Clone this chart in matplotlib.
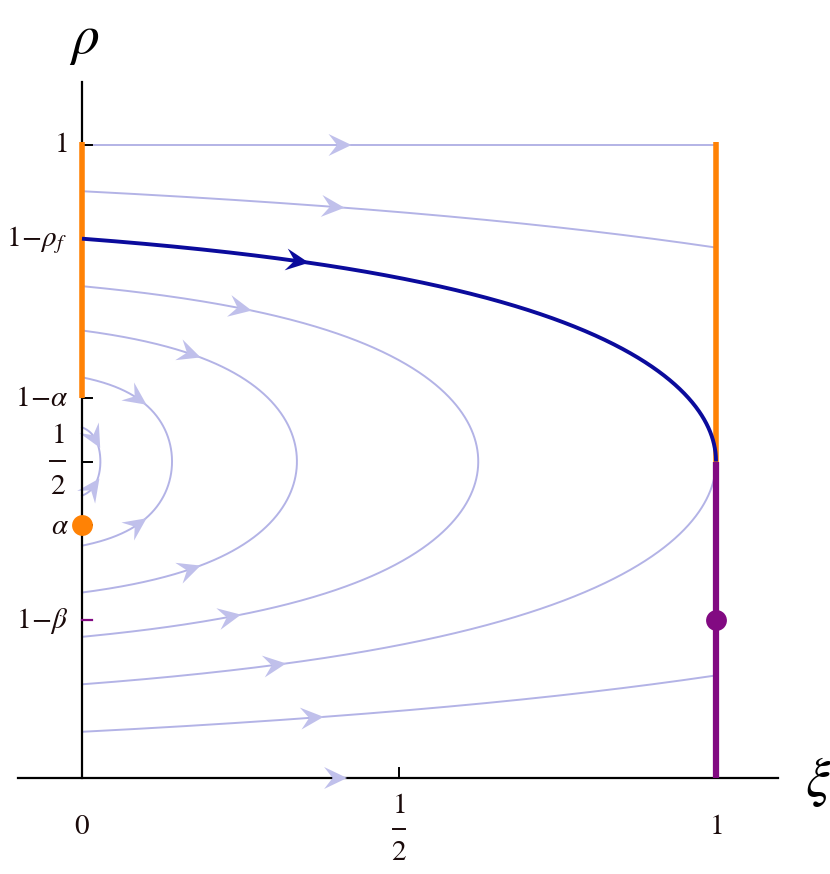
import numpy as np
import matplotlib
matplotlib.use('Agg')
import matplotlib.pyplot as plt
from matplotlib.patches import Polygon

plt.rcParams['mathtext.fontset'] = 'stix'
plt.rcParams['font.family'] = ['STIXGeneral', 'DejaVu Serif']

# ---------------- data ----------------
alpha = 0.40
beta = 0.75
rho_f = 0.148
xi_ticks = [0.0, 0.5, 1.0]
rho_ticks = [1.0, 1 - rho_f, 1 - alpha, 0.5, alpha, 1 - beta]

# closed characteristic curves: half-height at xi=0 and turning point
closed_d0 = [0.054, 0.133, 0.207, 0.277]
closed_xm = [0.029, 0.142, 0.339, 0.625]
closed_arrow_up = [0.020, 0.087, 0.170, 0.250]
closed_arrow_lo = [0.017, 0.087, 0.170, 0.233]

# separatrix (starts at 1-rho_f, turns at xi=1)
sep_d0 = 0.5 - rho_f
sep_xm = 1.0
sep_arrow_up = 0.34
sep_arrow_lo = 0.304

# open curves that leave through xi=1
open_d0 = 0.427
open_xm = 1.8
open_arrow_up = 0.396
open_arrow_lo = 0.363

# flat lines rho=1 and rho=0
flat_rho = [1.0, 0.0]
flat_arrow = [0.407, 0.400]

K = 1.5  # shape parameter of the curve family

# ---------------- geometry helpers ----------------
PX_X = 634.0
PX_Y = 633.0


def xi_of(d, d0, xm):
    s = np.clip(1 - (d / d0) ** 2, 0, None)
    return xm * np.log(1 + s * (np.exp(K) - 1)) / K


def d_of(xi, d0, xm):
    g = (np.exp(K * xi / xm) - 1) / (np.exp(K) - 1)
    return d0 * np.sqrt(max(0.0, 1 - g))


light = '#B3B3E6'
light_arrow = '#C0C0EB'
dark = '#0B0B9C'
orange = '#FF8205'
purple = '#820A82'
txtc = '#1a0a0a'

fig = plt.figure(figsize=(8.3, 8.74), dpi=100)
ax = fig.add_axes([0, 0, 1, 1])
ax.set_xlim(-82 / PX_X, 748 / PX_X)
ax.set_ylim((778 - 874) / PX_Y, 778 / PX_Y)
ax.axis('off')


def arrow(x, y, dx_px, dy_px, color, z=3):
    n = np.hypot(dx_px, dy_px)
    ux, uy = dx_px / n, dy_px / n
    vx, vy = -uy, ux
    L, W, N = 23.0, 22.0, 8.5
    pts_px = [(L * 0.5 * ux, L * 0.5 * uy),
              (-L * 0.5 * ux + W / 2 * vx, -L * 0.5 * uy + W / 2 * vy),
              (-(L * 0.5 - N) * ux, -(L * 0.5 - N) * uy),
              (-L * 0.5 * ux - W / 2 * vx, -L * 0.5 * uy - W / 2 * vy)]
    pts = [(x + px / PX_X, y + py / PX_Y) for px, py in pts_px]
    ax.add_patch(Polygon(pts, closed=True, facecolor=color, edgecolor='none',
                         zorder=z, clip_on=False))


def curve_arrow(xi_a, d0, xm, sign, color, z=3):
    d = d_of(xi_a, d0, xm)
    dd = min(0.004, d * 0.5) if d > 0 else 0.002
    x1, y1 = xi_of(d, d0, xm), 0.5 + sign * d
    x2, y2 = xi_of(d - dd, d0, xm), 0.5 + sign * (d - dd)
    arrow(x1, y1, (x2 - x1) * PX_X, (y2 - y1) * PX_Y, color, z)


LW = 1.4
# closed curves
for d0, xm, au, al in zip(closed_d0, closed_xm, closed_arrow_up, closed_arrow_lo):
    ds = np.linspace(d0, -d0, 600)
    ax.plot(xi_of(ds, d0, xm), 0.5 + ds, color=light, lw=LW, zorder=2)
    curve_arrow(au, d0, xm, +1, light_arrow)
    curve_arrow(al, d0, xm, -1, light_arrow)

# separatrix: upper dark, lower light
ds = np.linspace(sep_d0, 0, 600)
ax.plot(xi_of(ds, sep_d0, sep_xm), 0.5 + ds, color=dark, lw=2.8, zorder=6,
        solid_capstyle='butt')
ax.plot(xi_of(ds, sep_d0, sep_xm), 0.5 - ds, color=light, lw=LW, zorder=2)
curve_arrow(sep_arrow_up, sep_d0, sep_xm, +1, dark, z=7)
curve_arrow(sep_arrow_lo, sep_d0, sep_xm, -1, light_arrow)

# open curves
xs = np.linspace(0, 1, 400)
d_open = np.array([d_of(x, open_d0, open_xm) for x in xs])
ax.plot(xs, 0.5 + d_open, color=light, lw=LW, zorder=2)
ax.plot(xs, 0.5 - d_open, color=light, lw=LW, zorder=2)
curve_arrow(open_arrow_up, open_d0, open_xm, +1, light_arrow)
curve_arrow(open_arrow_lo, open_d0, open_xm, -1, light_arrow)

# flat lines
ax.plot([0, 1], [flat_rho[0], flat_rho[0]], color=light, lw=LW, zorder=2)
arrow(flat_arrow[0], flat_rho[0], 1, 0, light_arrow)
arrow(flat_arrow[1], flat_rho[1], 1, 0, light_arrow, z=5)

# axes
ax.plot([(18 - 82) / PX_X, (778 - 82) / PX_X], [0, 0], color='black', lw=1.6,
        zorder=4, clip_on=False)
ax.plot([0, 0], [0, (778 - 82) / PX_Y], color='black', lw=1.6, zorder=4)

# ticks
tl = 10 / PX_X
for r in rho_ticks[:-1]:
    ax.plot([0, tl], [r, r], color='black', lw=1.4, zorder=4)
ax.plot([0, tl], [rho_ticks[-1]] * 2, color=purple, lw=1.6, zorder=4)
tly = 10 / PX_Y
for x in xi_ticks[1:]:
    ax.plot([x, x], [0, tly], color='black', lw=1.4, zorder=4)

# boundary segments
ax.plot([0, 0], [1 - alpha, 1.005], color=orange, lw=4.0, zorder=5,
        solid_capstyle='butt')
ax.plot([1, 1], [0.5, 1.005], color=orange, lw=4.0, zorder=5,
        solid_capstyle='butt')
ax.plot([1, 1], [0, 0.5], color=purple, lw=4.5, zorder=5,
        solid_capstyle='butt')
ax.plot([0], [alpha], 'o', color=orange, ms=15, zorder=8, mec='none')
ax.plot([1], [1 - beta], 'o', color=purple, ms=15, zorder=8, mec='none')


# labels
def px2d(px, py):
    return (px - 82) / PX_X, (778 - py) / PX_Y


fs = 21
def ylab(txt, py, right=70):
    x, y = px2d(right, py)
    ax.text(x, y, txt, ha='right', va='center', fontsize=fs, color=txtc)

ylab(r'$1$', 145, 68)
ylab(r'$1\!-\!\rho_f$', 240, 67)
ylab(r'$1\!-\!\alpha$', 399, 69)
ylab(r'$\alpha$', 527, 69)
ylab(r'$1\!-\!\beta$', 621, 69)

# fraction 1/2 on rho axis
x, y = px2d(58, 436)
ax.text(x, y, r'$1$', ha='center', va='center', fontsize=fs, color=txtc)
x, y = px2d(58, 487)
ax.text(x, y, r'$2$', ha='center', va='center', fontsize=fs, color=txtc)
x1, y1 = px2d(50, 461)
x2, _ = px2d(65, 461)
ax.plot([x1, x2], [y1, y1], color=txtc, lw=1.4, clip_on=False)

# xi axis labels
for px, t in [(82, r'$0$'), (716, r'$1$')]:
    x, y = px2d(px, 827)
    ax.text(x, y, t, ha='center', va='center', fontsize=fs, color=txtc)
x, y = px2d(399, 806)
ax.text(x, y, r'$1$', ha='center', va='center', fontsize=fs, color=txtc)
x, y = px2d(399, 853)
ax.text(x, y, r'$2$', ha='center', va='center', fontsize=fs, color=txtc)
x1, y1 = px2d(393, 829)
x2, _ = px2d(405, 829)
ax.plot([x1, x2], [y1, y1], color=txtc, lw=1.4, clip_on=False)

# axis titles
x, y = px2d(84, 42)
ax.text(x, y, r'$\rho$', ha='center', va='center', fontsize=40, color='black')
x, y = px2d(818, 782)
ax.text(x, y, r'$\xi$', ha='center', va='center', fontsize=40, color='black')

fig.savefig('out.png', dpi=100)
